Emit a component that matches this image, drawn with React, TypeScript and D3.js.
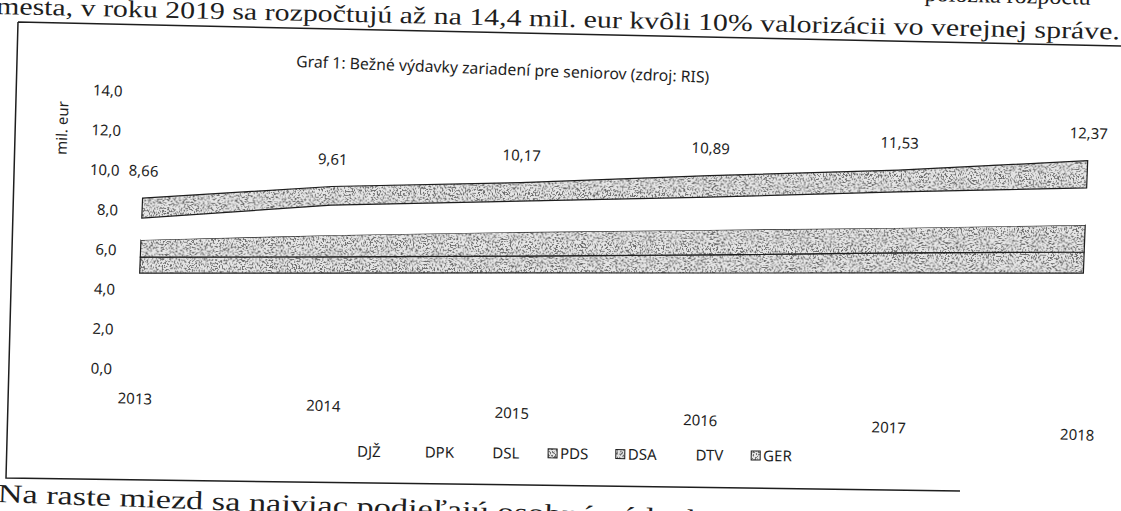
import React, { useEffect } from 'react';
import * as d3 from 'd3';

// values (mil. eur)
const years = ['2013', '2014', '2015', '2016', '2017', '2018'];
const seriesNames = ['DJŽ', 'DPK', 'DSL', 'PDS', 'DSA', 'DTV', 'GER'];
const djz = [1.62, 1.74, 1.86, 1.98, 2.10, 2.22];
const dpk = [1.95, 2.10, 2.25, 2.38, 2.52, 2.66];
const dsl = [1.31, 1.41, 1.51, 1.62, 1.73, 1.82];
const pds = [0.81, 0.81, 0.85, 0.91, 1.01, 1.07];
const dsa = [0.86, 1.10, 1.21, 1.26, 1.26, 1.36];
const dtv = [1.10, 1.51, 1.56, 1.66, 1.81, 1.87];
const ger = [1.01, 0.94, 0.93, 1.08, 1.10, 1.37];
const hatchedSeries = ['PDS', 'DSA', 'GER'];
const yTicks = [0, 2, 4, 6, 8, 10, 12, 14];

const title = 'Graf 1: Bežné výdavky zariadení pre seniorov (zdroj: RIS)';
const yTitle = 'mil. eur';
const pageTextTop = 'mesta, v roku 2019 sa rozpočtujú až na 14,4 mil. eur kvôli 10% valorizácii vo verejnej správe.';
const pageTextTopPrev = 'položka rozpočtu';
const pageTextBottom = 'Na raste miezd sa najviac podieľajú osobné výdavky (3,1';

const W = 1121;
const H = 511;
const chartFont = '"Noto Sans", "Open Sans", sans-serif';
const serifFont = '"Liberation Serif", "DejaVu Serif", serif';
const ink = '#1e1e1e';

const App = () => {
    useEffect(() => {
        document.body.style.margin = '0';
    }, []);

    const values = [djz, dpk, dsl, pds, dsa, dtv, ger];
    const rows = years.map((year, i) => {
        const row: any = { year };
        seriesNames.forEach((name, k) => { row[name] = values[k][i]; });
        return row;
    });
    const totals = years.map((_, i) => d3.sum(values, v => v[i]));

    const x = d3.scalePoint().domain(years).range([136, 1079]);
    const y = d3.scaleLinear().domain([0, 14]).range([370, 92]);

    const stacked = d3.stack().keys(seriesNames)(rows);
    const area = d3.area<any>()
        .x(d => x(d.data.year) as number)
        .y0(d => y(d[0]))
        .y1(d => y(d[1]));

    const fmt = (v: number) => v.toFixed(2).replace('.', ',');
    const fmtTick = (v: number) => v.toFixed(1).replace('.', ',');

    const legendStep = 67.7;
    const legendX0 = 345;

    return (
        <svg width={W} height={H} style={{ position: 'fixed', left: 0, top: 0, background: '#fff' }}>
            <defs>
                <filter id="stipple" filterUnits="userSpaceOnUse" x="0" y="0" width={W} height={H}>
                    <feTurbulence type="fractalNoise" baseFrequency="0.6" numOctaves="2" seed="7" result="noise" />
                    <feColorMatrix in="noise" type="matrix"
                        values="0 0 0 0 0.15  0 0 0 0 0.15  0 0 0 0 0.15  -14 0 0 0 6.9" result="dots" />
                    <feComposite in="dots" in2="SourceGraphic" operator="in" result="clipped" />
                    <feMerge>
                        <feMergeNode in="SourceGraphic" />
                        <feMergeNode in="clipped" />
                    </feMerge>
                </filter>
            </defs>

            {/* surrounding page text */}
            <g transform="rotate(1.3, 0, 14)" fontFamily={serifFont} fill={ink}>
                <text x={1090} y={-20} fontSize={24} textAnchor="end">{pageTextTopPrev}</text>
                <text x={-4} y={14} fontSize={24} textLength={1124} lengthAdjust="spacingAndGlyphs">{pageTextTop}</text>
            </g>
            <g transform="rotate(2.1, 0, 502)" fontFamily={serifFont} fill={ink}>
                <text transform="scale(1.32,1)" x={-2} y={502} fontSize={26}>{pageTextBottom}</text>
            </g>

            {/* chart frame */}
            <path d="M18,22 L1121,46 M18,22 L6,478 L960,491" fill="none" stroke={ink} strokeWidth={1.5} />

            {/* chart body, slightly rotated like the scan */}
            <g transform="rotate(2.2, 137, 369)" fontFamily={chartFont} fill={ink}>
                <text x={491} y={61} fontSize={15.8} textAnchor="middle">{title}</text>

                <text transform={`translate(53,131) rotate(-90)`} fontSize={15} textAnchor="middle" dy="0.35em">{yTitle}</text>

                {yTicks.map(t => (
                    <text key={t} x={112} y={y(t)} dy="0.35em" fontSize={15} textAnchor="end">{fmtTick(t)}</text>
                ))}

                {stacked.map(s => {
                    const hatched = hatchedSeries.includes(s.key);
                    return (
                        <g key={s.key}>
                            <path d={area(s as any) || ''} fill={hatched ? '#e6e6e6' : '#fff'}
                                filter={hatched ? 'url(#stipple)' : undefined} />
                            {hatched && (
                                <path d={area(s as any) || ''} fill="none" stroke={ink} strokeWidth={1.2} />
                            )}
                        </g>
                    );
                })}

                {years.map((yr, i) => (
                    <text key={'lbl' + yr} x={x(yr)} y={y(totals[i]) - 22} fontSize={15} textAnchor="middle">
                        {fmt(totals[i])}
                    </text>
                ))}

                {years.map(yr => (
                    <text key={yr} x={x(yr)} y={404} fontSize={15} textAnchor="middle">{yr}</text>
                ))}
            </g>

            {/* legend */}
            <g transform="rotate(0.6, 560, 454)" fontFamily={chartFont} fill={ink}>
                {seriesNames.map((name, i) => {
                    const lx = legendX0 + i * legendStep;
                    const hatched = hatchedSeries.includes(name);
                    return (
                        <g key={name}>
                            {hatched ? (
                                <>
                                    <rect x={lx} y={449} width={9} height={9} fill="#e6e6e6" filter="url(#stipple)" />
                                    <rect x={lx} y={449} width={9} height={9} fill="none" stroke={ink} strokeWidth={1} />
                                </>
                            ) : (
                                <rect x={lx} y={449} width={9} height={9} fill="#fff" />
                            )}
                            <text x={lx + 12} y={459} fontSize={15}>{name}</text>
                        </g>
                    );
                })}
            </g>
        </svg>
    );
};

export default App;
